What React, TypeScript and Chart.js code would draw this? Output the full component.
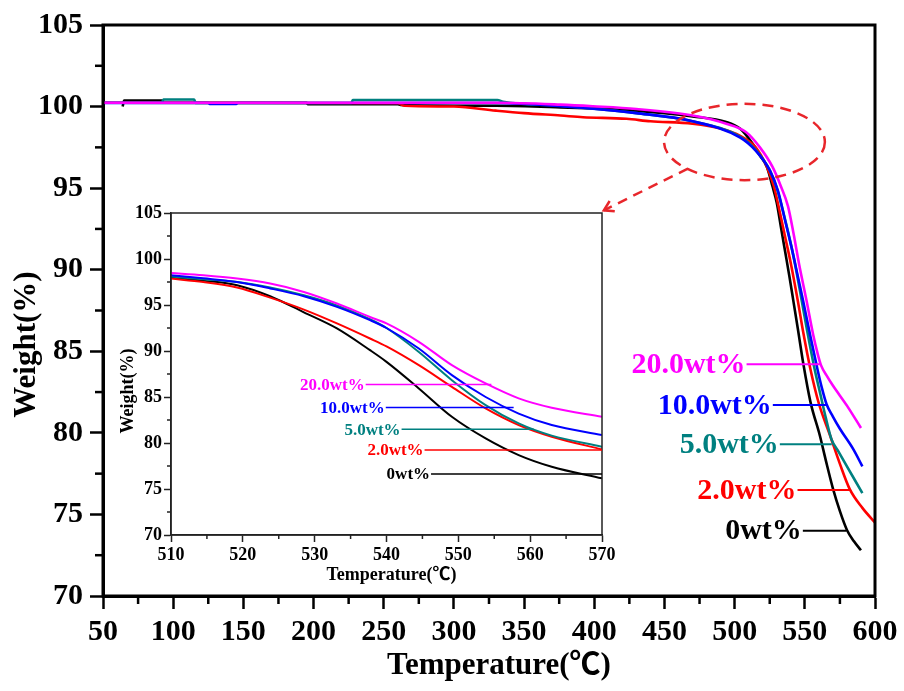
import React, { useEffect, useRef } from "react";
import { Chart, registerables } from "chart.js";

Chart.register(...registerables);

const FONT = '"Liberation Serif", "Times New Roman", "Noto Sans CJK SC", serif';

// ---------- series metadata ----------
const SERIES_NAMES = ["0wt%", "2.0wt%", "5.0wt%", "10.0wt%", "20.0wt%"];
const SERIES_COLORS = ["#000000", "#ff0000", "#008080", "#0000ff", "#ff00ff"];

// ---------- main chart data (temperature °C, weight %) ----------
const MAIN_T_0 = [64, 65, 92, 93, 195, 196, 260, 262, 330, 376, 420, 450, 470, 494, 504, 513, 518, 523, 527, 530, 533, 536, 539, 542, 545, 549, 554, 560.7, 565, 570, 575, 580, 585, 590];
const MAIN_W_0 = [100.0, 100.37, 100.37, 100.23, 100.23, 100.15, 100.15, 100.1, 100.05, 99.95, 99.8, 99.6, 99.4, 99.06, 98.64, 97.7, 97.0, 96.3, 95.1, 94.1, 92.6, 91.1, 89.6, 88.0, 86.4, 84.2, 81.9, 79.84, 78.3, 76.6, 75.2, 74.05, 73.35, 72.8];

const MAIN_T_2 = [50, 260, 265, 300, 330, 350, 376, 392, 423, 440, 470, 490, 504, 515, 523, 528, 532, 536, 540, 545, 549, 554, 560, 568, 575, 582, 591, 600];
const MAIN_W_2 = [100.23, 100.2, 100.05, 100.0, 99.75, 99.6, 99.45, 99.35, 99.25, 99.1, 98.95, 98.65, 98.2, 97.5, 96.3, 95.1, 93.6, 92.0, 90.4, 88.1, 86.1, 83.9, 81.8, 79.84, 78.1, 76.55, 75.4, 74.5];

const MAIN_T_5 = [50, 92, 93, 115, 116, 227, 228, 331, 335, 376, 430, 470, 504, 515, 525, 530, 535, 540, 544, 548, 552, 557, 561, 565, 569, 574, 580, 591];
const MAIN_W_5 = [100.23, 100.23, 100.43, 100.43, 100.22, 100.22, 100.4, 100.4, 100.3, 100.05, 99.6, 99.1, 98.15, 97.35, 96.1, 95.0, 93.4, 91.6, 89.9, 88.0, 86.1, 83.9, 82.4, 80.9, 79.6, 78.85, 77.95, 76.3];

const MAIN_T_10 = [50, 125, 126, 145, 146, 330, 376, 430, 470, 504, 515, 525, 531, 536, 541, 545, 549, 554, 559, 562, 565.5, 570, 575, 584.5, 591];
const MAIN_W_10 = [100.22, 100.22, 100.16, 100.16, 100.22, 100.22, 100.02, 99.6, 99.1, 98.1, 97.3, 96.1, 94.8, 93.0, 91.2, 89.6, 88.0, 85.9, 83.9, 82.8, 81.75, 81.0, 80.25, 79.0, 77.95];

const MAIN_T_20 = [50, 330, 376, 399, 430, 470, 494, 508, 518, 527, 533, 538, 542, 546, 551, 556, 559, 561.5, 566, 570, 580, 590];
const MAIN_W_20 = [100.23, 100.23, 100.12, 100.02, 99.85, 99.45, 98.95, 98.44, 97.5, 96.3, 95.1, 93.9, 92.2, 90.3, 88.2, 86.0, 84.9, 84.15, 83.45, 82.9, 81.67, 80.3];

const MAIN_T = [MAIN_T_0, MAIN_T_2, MAIN_T_5, MAIN_T_10, MAIN_T_20];
const MAIN_W = [MAIN_W_0, MAIN_W_2, MAIN_W_5, MAIN_W_10, MAIN_W_20];

// ---------- inset data ----------
const INSET_T = [510, 514.5, 519.2, 523.8, 528.5, 533.1, 537.7, 540, 544.5, 549.1, 553.8, 558.4, 563, 570];
const INSET_W_0 = [98.0, 97.65, 97.15, 95.95, 94.2, 92.45, 90.09, 88.82, 85.93, 82.85, 80.5, 78.69, 77.42, 76.16];
const INSET_W_2 = [97.87, 97.5, 96.9, 95.8, 94.5, 93.0, 91.36, 90.5, 88.46, 86.1, 83.76, 81.95, 80.68, 79.3];
const INSET_W_5 = [98.1, 97.8, 97.5, 96.9, 96.05, 94.95, 93.45, 92.5, 89.9, 86.83, 84.12, 82.13, 80.8, 79.6];
const INSET_W_10 = [98.23, 97.9, 97.5, 96.8, 95.95, 94.8, 93.35, 92.5, 90.27, 87.38, 85.0, 83.2, 81.95, 80.86];
const INSET_W_20 = [98.48, 98.23, 97.87, 97.33, 96.42, 95.16, 93.7, 93.0, 91.0, 88.46, 86.47, 84.85, 83.83, 82.85];
const INSET_W = [INSET_W_0, INSET_W_2, INSET_W_5, INSET_W_10, INSET_W_20];

// ---------- axes ----------
const MAIN_X_MIN = 50, MAIN_X_MAX = 600, MAIN_X_STEP = 50;
const MAIN_Y_MIN = 70, MAIN_Y_MAX = 105, MAIN_Y_STEP = 5;
const MAIN_X_MINOR = [75, 125, 175, 225, 275, 325, 375, 425, 475, 525, 575];
const MAIN_Y_MINOR = [72.5, 77.5, 82.5, 87.5, 92.5, 97.5, 102.5];

const INSET_X_MIN = 510, INSET_X_MAX = 570, INSET_X_STEP = 10;
const INSET_Y_MIN = 70, INSET_Y_MAX = 105, INSET_Y_STEP = 5;
const INSET_X_MINOR = [515, 525, 535, 545, 555, 565];
const INSET_Y_MINOR = [72.5, 77.5, 82.5, 87.5, 92.5, 97.5, 102.5];

const X_TITLE = "Temperature(℃)";
const Y_TITLE = "Weight(%)";

// ---------- series labels (data coords: leader line start/end, y) ----------
const MAIN_LABEL_X0 = [548.6, 544.8, 532.2, 527.2, 508.5];
const MAIN_LABEL_X1 = [579.7, 582, 569.2, 565.5, 560.7];
const MAIN_LABEL_Y = [74.0, 76.5, 79.3, 81.7, 84.2];

const INSET_LABEL_X0 = [546.2, 545.3, 542.1, 539.9, 537.1];
const INSET_LABEL_X1 = [570, 570, 560.5, 557.7, 554.6];
const INSET_LABEL_Y = [76.63, 79.23, 81.5, 83.87, 86.37];

// ---------- zoom marker (data coords of main chart) ----------
const ELLIPSE_CENTER = [507, 97.83];
const ELLIPSE_RADII = [57.3, 2.34];
const ARROW_FROM = [466.7, 96.2];
const ARROW_TO = [406.8, 93.64];

function buildDatasets(ts: number[][], ws: number[][], width: number) {
  return ws.map((w, i) => ({
    label: SERIES_NAMES[i],
    data: w.map((v, j) => ({ x: ts[i][j], y: v })),
    borderColor: SERIES_COLORS[i],
    backgroundColor: SERIES_COLORS[i],
    borderWidth: width,
    pointRadius: 0,
    fill: false,
    cubicInterpolationMode: "monotone" as const,
    order: 4 - i,
  }));
}

function line(ctx: CanvasRenderingContext2D, x1: number, y1: number, x2: number, y2: number) {
  ctx.beginPath();
  ctx.moveTo(x1, y1);
  ctx.lineTo(x2, y2);
  ctx.stroke();
}

function makeDecor(opts: {
  id: string;
  frameWidth: number;
  frameColor: string;
  minorX: number[];
  minorY: number[];
  minorLen: number;
  minorWidth: number;
  labelX0: number[];
  labelX1: number[];
  labelY: number[];
  labelFont: number;
  labelLineWidth: number;
  titleFont: number;
  yTitleDx: number;
  yTitleDy: number;
  xTitleDx: number;
  xTitleDy: number;
  marker: boolean;
}) {
  return {
    id: opts.id,
    afterDraw(chart: any) {
      const { ctx, chartArea: a, scales } = chart;
      const xs = scales.x, ys = scales.y;
      ctx.save();
      // frame
      ctx.strokeStyle = opts.frameColor;
      ctx.lineWidth = opts.frameWidth;
      ctx.strokeRect(a.left, a.top, a.right - a.left, a.bottom - a.top);
      // minor ticks
      ctx.lineWidth = opts.minorWidth;
      for (const v of opts.minorY) {
        const py = ys.getPixelForValue(v);
        line(ctx, a.left - opts.minorLen, py, a.left, py);
      }
      for (const v of opts.minorX) {
        const px = xs.getPixelForValue(v);
        line(ctx, px, a.bottom, px, a.bottom + opts.minorLen);
      }
      // series labels with leader lines
      ctx.font = `bold ${opts.labelFont}px ${FONT}`;
      ctx.textAlign = "right";
      ctx.textBaseline = "middle";
      for (let i = 0; i < SERIES_NAMES.length; i++) {
        const x0 = xs.getPixelForValue(opts.labelX0[i]);
        const x1 = xs.getPixelForValue(opts.labelX1[i]);
        const py = ys.getPixelForValue(opts.labelY[i]);
        ctx.strokeStyle = SERIES_COLORS[i];
        ctx.fillStyle = SERIES_COLORS[i];
        ctx.lineWidth = opts.labelLineWidth;
        line(ctx, x0, py, x1, py);
        ctx.fillText(SERIES_NAMES[i], x0 - 1, py + 1);
      }
      // zoom marker
      if (opts.marker) {
        const cx = xs.getPixelForValue(ELLIPSE_CENTER[0]);
        const cy = ys.getPixelForValue(ELLIPSE_CENTER[1]);
        const rx = Math.abs(xs.getPixelForValue(ELLIPSE_CENTER[0] + ELLIPSE_RADII[0]) - cx);
        const ry = Math.abs(ys.getPixelForValue(ELLIPSE_CENTER[1] + ELLIPSE_RADII[1]) - cy);
        ctx.strokeStyle = "#e8262b";
        ctx.lineWidth = 2.5;
        ctx.setLineDash([11, 7]);
        ctx.beginPath();
        ctx.ellipse(cx, cy, rx, ry, 0, 0, Math.PI * 2);
        ctx.stroke();
        const ax = xs.getPixelForValue(ARROW_FROM[0]);
        const ay = ys.getPixelForValue(ARROW_FROM[1]);
        const bx = xs.getPixelForValue(ARROW_TO[0]);
        const by = ys.getPixelForValue(ARROW_TO[1]);
        ctx.setLineDash([10, 7]);
        line(ctx, ax, ay, bx, by);
        ctx.setLineDash([]);
        const ang = Math.atan2(by - ay, bx - ax);
        const hl = 11;
        ctx.beginPath();
        ctx.moveTo(bx - hl * Math.cos(ang - 0.55), by - hl * Math.sin(ang - 0.55));
        ctx.lineTo(bx, by);
        ctx.lineTo(bx - hl * Math.cos(ang + 0.55), by - hl * Math.sin(ang + 0.55));
        ctx.stroke();
      }
      // axis titles
      ctx.setLineDash([]);
      ctx.fillStyle = "#000";
      ctx.font = `bold ${opts.titleFont}px ${FONT}`;
      ctx.textAlign = "center";
      ctx.textBaseline = "middle";
      ctx.fillText(X_TITLE, (a.left + a.right) / 2 + opts.xTitleDx, a.bottom + opts.xTitleDy);
      ctx.save();
      ctx.translate(a.left + opts.yTitleDx, (a.top + a.bottom) / 2 + opts.yTitleDy);
      ctx.rotate(-Math.PI / 2);
      ctx.fillText(Y_TITLE, 0, 0);
      ctx.restore();
      ctx.restore();
    },
  };
}

function axisOptions(p: {
  min: number; max: number; step: number; fontSize: number; tickLen: number;
  tickWidth: number; borderWidth: number; color: string; padding: number;
  fit: (s: any) => void; position: "bottom" | "left";
}) {
  return {
    type: "linear" as const,
    position: p.position,
    min: p.min,
    max: p.max,
    afterFit: p.fit,
    ticks: {
      stepSize: p.step,
      autoSkip: false,
      maxRotation: 0,
      color: "#000",
      padding: p.padding,
      font: { family: FONT, size: p.fontSize, weight: "bold" as const },
    },
    grid: {
      display: true,
      drawOnChartArea: false,
      drawTicks: true,
      tickLength: p.tickLen,
      tickWidth: p.tickWidth,
      tickColor: p.color,
    },
    border: { display: true, color: p.color, width: p.borderWidth },
    title: { display: false },
  };
}

export default function App() {
  const mainRef = useRef<HTMLCanvasElement | null>(null);
  const insetRef = useRef<HTMLCanvasElement | null>(null);

  useEffect(() => {
    if (!mainRef.current || !insetRef.current) return;

    const main = new Chart(mainRef.current, {
      type: "line",
      data: { datasets: buildDatasets(MAIN_T, MAIN_W, 2.6) as any },
      options: {
        responsive: false,
        animation: false,
        layout: { padding: { top: 21, right: 29, left: 0, bottom: 0 } },
        plugins: { legend: { display: false }, tooltip: { enabled: false } },
        scales: {
          x: axisOptions({
            min: MAIN_X_MIN, max: MAIN_X_MAX, step: MAIN_X_STEP, fontSize: 30, tickLen: 13,
            tickWidth: 2.5, borderWidth: 3, color: "#000", padding: 5, position: "bottom",
            fit: (s: any) => { s.height = 95; },
          }),
          y: axisOptions({
            min: MAIN_Y_MIN, max: MAIN_Y_MAX, step: MAIN_Y_STEP, fontSize: 30, tickLen: 13,
            tickWidth: 2.5, borderWidth: 3, color: "#000", padding: 7, position: "left",
            fit: (s: any) => { s.width = 103; },
          }),
        } as any,
      },
      plugins: [
        makeDecor({
          id: "mainDecor", frameWidth: 3, frameColor: "#000",
          minorX: MAIN_X_MINOR, minorY: MAIN_Y_MINOR, minorLen: 8, minorWidth: 2.5,
          labelX0: MAIN_LABEL_X0, labelX1: MAIN_LABEL_X1, labelY: MAIN_LABEL_Y,
          labelFont: 30, labelLineWidth: 2, titleFont: 31,
          yTitleDx: -76, yTitleDy: 34, xTitleDx: 10, xTitleDy: 70, marker: true,
        }),
      ],
    });

    const inset = new Chart(insetRef.current, {
      type: "line",
      data: {
        datasets: buildDatasets(INSET_W.map(() => INSET_T), INSET_W, 2) as any,
      },
      options: {
        responsive: false,
        animation: false,
        layout: { padding: { top: 15, right: 18, left: 0, bottom: 0 } },
        plugins: { legend: { display: false }, tooltip: { enabled: false } },
        scales: {
          x: axisOptions({
            min: INSET_X_MIN, max: INSET_X_MAX, step: INSET_X_STEP, fontSize: 18, tickLen: 7,
            tickWidth: 1.5, borderWidth: 1.5, color: "#222", padding: 3, position: "bottom",
            fit: (s: any) => { s.height = 60; },
          }),
          y: axisOptions({
            min: INSET_Y_MIN, max: INSET_Y_MAX, step: INSET_Y_STEP, fontSize: 18, tickLen: 7,
            tickWidth: 1.5, borderWidth: 1.5, color: "#222", padding: 2, position: "left",
            fit: (s: any) => { s.width = 61; },
          }),
        } as any,
      },
      plugins: [
        makeDecor({
          id: "insetDecor", frameWidth: 1.5, frameColor: "#222",
          minorX: INSET_X_MINOR, minorY: INSET_Y_MINOR, minorLen: 4, minorWidth: 1.5,
          labelX0: INSET_LABEL_X0, labelX1: INSET_LABEL_X1, labelY: INSET_LABEL_Y,
          labelFont: 17, labelLineWidth: 1.5, titleFont: 18,
          yTitleDx: -43, yTitleDy: 17, xTitleDx: 5, xTitleDy: 40, marker: false,
        }),
      ],
    });

    return () => {
      main.destroy();
      inset.destroy();
    };
  }, []);

  return (
    <div style={{ position: "fixed", left: 0, top: 0, width: 904, height: 691, background: "#fff" }}>
      <canvas ref={mainRef} width={904} height={691} style={{ position: "absolute", left: 0, top: 0 }} />
      <canvas ref={insetRef} width={510} height={397} style={{ position: "absolute", left: 110, top: 198 }} />
    </div>
  );
}
